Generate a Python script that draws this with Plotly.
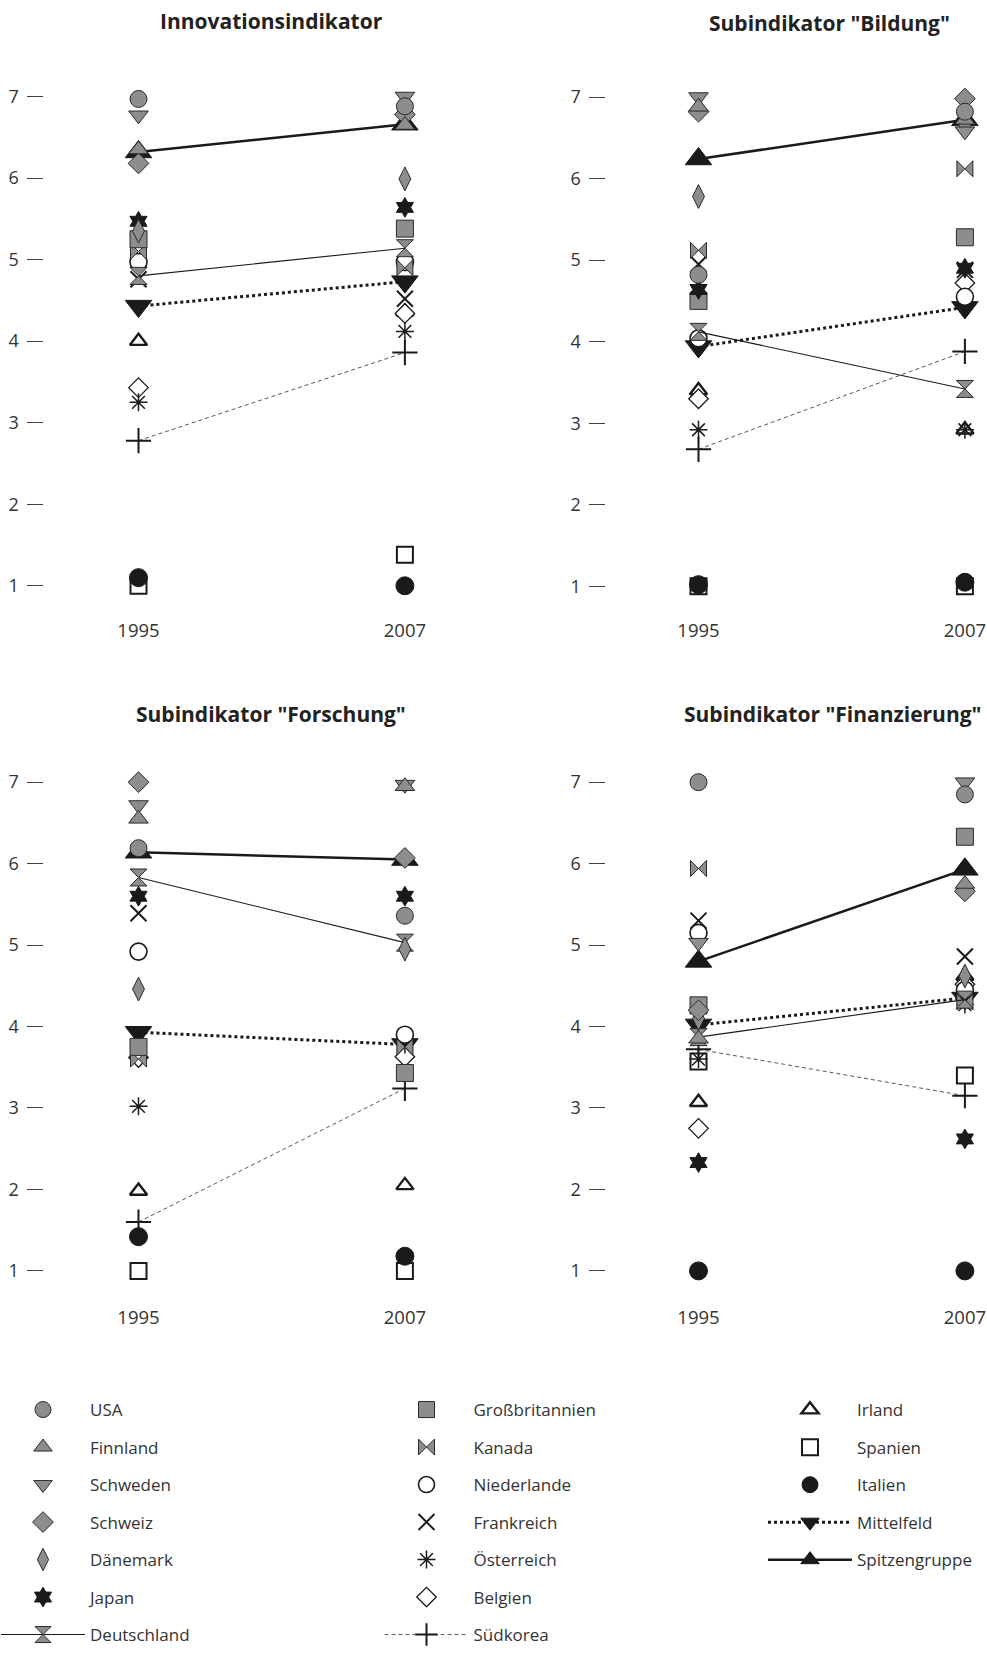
import plotly.graph_objects as go

W, H = 987, 1653

# ---------------- data ----------------
years = [1995, 2007]
year_labels = ["1995", "2007"]
y_ticks = [1, 2, 3, 4, 5, 6, 7]
panel_titles = ["Innovationsindikator", "Subindikator \"Bildung\"",
                "Subindikator \"Forschung\"", "Subindikator \"Finanzierung\""]

countries = ["USA", "Finnland", "Schweden", "Schweiz", "Dänemark", "Japan", "Deutschland",
             "Großbritannien", "Kanada", "Niederlande", "Frankreich", "Österreich", "Belgien", "Südkorea",
             "Irland", "Spanien", "Italien", "Mittelfeld", "Spitzengruppe"]

innov_1995 = [6.97, 6.35, 6.77, 6.18, 5.35, 5.47, 4.80, 5.25, 5.10, 4.97, 4.76, 3.25, 3.43, 2.78,
              4.00, 1.00, 1.10, 4.43, 6.32]
innov_2007 = [6.88, 6.65, 7.00, 6.78, 5.99, 5.64, 5.14, 5.38, 4.90, 4.97, 4.52, 4.12, 4.34, 3.86,
              4.36, 1.38, 1.00, 4.73, 6.66]

bildung_1995 = [4.82, 6.88, 7.00, 6.82, 5.78, 4.64, 4.12, 4.50, 5.12, 4.04, 4.95, 2.92, 3.30, 2.68,
                3.40, 1.00, 1.02, 3.94, 6.24]
bildung_2007 = [6.82, 6.72, 6.58, 6.98, 6.65, 4.90, 3.42, 5.28, 6.12, 4.55, 4.88, 2.92, 4.72, 3.88,
                2.92, 1.00, 1.05, 4.42, 6.72]

forschung_1995 = [6.19, 6.55, 6.72, 7.00, 4.46, 5.60, 5.83, 3.75, 3.60, 4.92, 5.39, 3.02, 3.62, 1.60,
                  1.98, 1.00, 1.42, 3.93, 6.14]
forschung_2007 = [5.36, 6.95, 6.97, 6.07, 4.95, 5.60, 5.03, 3.43, 3.75, 3.90, 3.80, 3.78, 3.63, 3.24,
                  2.05, 1.00, 1.18, 3.78, 6.05]

finanz_1995 = [7.00, 3.85, 5.03, 4.20, 4.10, 2.33, 3.87, 4.26, 5.94, 5.15, 5.30, 3.60, 2.75, 3.72,
               3.07, 3.57, 1.00, 4.02, 4.80]
finanz_2007 = [6.85, 5.75, 7.00, 5.66, 4.62, 2.62, 4.33, 6.33, 4.30, 4.45, 4.86, 4.27, 4.52, 3.15,
               4.62, 3.40, 1.00, 4.35, 5.93]

panel_values = [(innov_1995, innov_2007), (bildung_1995, bildung_2007),
                (forschung_1995, forschung_2007), (finanz_1995, finanz_2007)]

# ---------------- styles ----------------
GRAY = "#8d8d90"
EDGE = "#2a2a2a"
BLACK = "#1a1a1a"
WHITE = "#ffffff"
FONT = "Open Sans"
TXT = "#333333"

def mk(symbol, size, color, lc=EDGE, lw=1.0):
    return dict(symbol=symbol, size=size, color=color, line=dict(color=lc, width=lw))

styles = {
    "USA": (mk("circle", 17, GRAY), None),
    "Finnland": (mk("triangle-up", 17, GRAY), None),
    "Schweden": (mk("triangle-down", 17, GRAY), None),
    "Schweiz": (mk("diamond", 16, GRAY), None),
    "Dänemark": (mk("diamond-tall", 17, GRAY), None),
    "Japan": (mk("hexagram", 15, BLACK, BLACK, 1), None),
    "Deutschland": (mk("hourglass", 17, GRAY), dict(color=BLACK, width=1.1)),
    "Großbritannien": (mk("square", 17, GRAY), None),
    "Kanada": (mk("bowtie", 16, GRAY), None),
    "Niederlande": (mk("circle", 17, WHITE, BLACK, 1.6), None),
    "Frankreich": (mk("x-thin-open", 16, BLACK, BLACK, 2), None),
    "Österreich": (mk("asterisk-open", 15, BLACK, BLACK, 1.5), None),
    "Belgien": (mk("diamond", 15, WHITE, BLACK, 1.3), None),
    "Südkorea": (mk("cross-thin-open", 18, BLACK, BLACK, 2), dict(color="#444444", width=0.9, dash="4px,3px")),
    "Irland": (mk("triangle-up", 15, WHITE, BLACK, 2.4), None),
    "Spanien": (mk("square", 16, WHITE, BLACK, 2.0), None),
    "Italien": (mk("circle", 18, BLACK, BLACK, 1), None),
    "Mittelfeld": (mk("triangle-down", 23, BLACK, BLACK, 1), dict(color=BLACK, width=3, dash="dot")),
    "Spitzengruppe": (mk("triangle-up", 23, BLACK, BLACK, 1), dict(color=BLACK, width=2.5)),
}

legend_col = {}
for i, c in enumerate(countries):
    legend_col[c] = "legend" if i < 7 else ("legend2" if i < 14 else "legend3")

# drawing order (bottom to top)
draw_order = ["Spitzengruppe", "Mittelfeld", "Spanien", "Italien", "Irland", "Südkorea", "Belgien",
              "Österreich", "Frankreich", "Niederlande", "Kanada", "Großbritannien", "Deutschland",
              "Japan", "Dänemark", "Schweiz", "Schweden", "Finnland", "USA"]

# ---------------- geometry (pixels) ----------------
px_per_year = 22.2
panels_geom = [
    dict(xd=(85, 450), x95=138.5, yd=(55, 627), y7=98.0, ppu=82.8, yaxpos=42.5),
    dict(xd=(655, 987), x95=698.5, yd=(55, 627), y7=98.5, ppu=82.8, yaxpos=604.5),
    dict(xd=(85, 450), x95=138.5, yd=(750, 1325), y7=794.2, ppu=82.7, yaxpos=42.5),
    dict(xd=(655, 987), x95=698.5, yd=(750, 1325), y7=794.2, ppu=82.7, yaxpos=604.5),
]

fig = go.Figure()

for p, g in enumerate(panels_geom):
    v95, v07 = panel_values[p]
    xa = "x" if p == 0 else f"x{p+1}"
    ya = "y" if p == 0 else f"y{p+1}"
    for c in draw_order:
        i = countries.index(c)
        marker, line = styles[c]
        tr = dict(
            x=years, y=[v95[i], v07[i]],
            mode="lines+markers" if line else "markers",
            marker=marker, name=c, legendgroup=c,
            showlegend=(p == 0), legend=legend_col[c], legendrank=i + 1,
            xaxis=xa, yaxis=ya, cliponaxis=False, hoverinfo="name+y",
        )
        if line:
            tr["line"] = line
        fig.add_trace(go.Scatter(**tr))

layout_axes = {}
for p, g in enumerate(panels_geom):
    x0px, x1px = g["xd"]
    r0 = 1995 + (x0px - g["x95"]) / px_per_year
    r1 = 1995 + (x1px - g["x95"]) / px_per_year
    ytop, ybot = g["yd"]
    vtop = 7 + (g["y7"] - ytop) / g["ppu"]
    vbot = 7 - (ybot - g["y7"]) / g["ppu"]
    sx = "xaxis" if p == 0 else f"xaxis{p+1}"
    sy = "yaxis" if p == 0 else f"yaxis{p+1}"
    yname = "y" if p == 0 else f"y{p+1}"
    layout_axes[sx] = dict(
        domain=[x0px / W, x1px / W], range=[r0, r1], anchor=yname,
        tickvals=years, ticktext=year_labels, showgrid=False, zeroline=False,
        showline=False, ticks="", tickfont=dict(family=FONT, size=18.5, color=TXT),
        fixedrange=True,
    )
    layout_axes[sy] = dict(
        domain=[1 - ybot / H, 1 - ytop / H], range=[vbot, vtop], anchor="free",
        position=g["yaxpos"] / W, tickvals=y_ticks, ticks="outside", ticklen=16,
        tickwidth=1, tickcolor="#444444", showgrid=False, zeroline=False, showline=False,
        tickfont=dict(family=FONT, size=18, color=TXT), ticklabelstandoff=4,
        fixedrange=True,
    )

title_pos = [(271, 21), (829, 23), (271, 725), (833, 725)]
annotations = []
for t, (tx, ty) in zip(panel_titles, title_pos):
    annotations.append(dict(
        text=t, x=tx / W, y=1 - ty / H, xref="paper", yref="paper",
        xanchor="center", yanchor="middle", showarrow=False,
        font=dict(family=FONT, size=21, color="#222222", weight="bold"),
    ))

ITEMW = 84
legend_common = dict(
    orientation="v", traceorder="grouped", tracegroupgap=12.4,
    itemsizing="trace", itemwidth=ITEMW, bgcolor="rgba(0,0,0,0)", borderwidth=0,
    font=dict(family=FONT, size=17, color=TXT), xanchor="left", yanchor="top",
    itemclick=False, itemdoubleclick=False,
)
legend_top = 1413.5
fig.update_layout(
    width=W, height=H, margin=dict(l=0, r=0, t=0, b=0),
    paper_bgcolor="white", plot_bgcolor="white",
    showlegend=True,
    legend=dict(x=0, y=1 - legend_top / H, indentation=-4, **legend_common),
    legend2=dict(x=379.5 / W, y=1 - legend_top / H, **legend_common),
    legend3=dict(x=763 / W, y=1 - legend_top / H, **legend_common),
    annotations=annotations,
    **layout_axes,
)

fig.write_html(
    "out.html",
    config={"displayModeBar": False},
    post_script="document.body.style.margin='0px';document.body.style.overflow='hidden';",
)
